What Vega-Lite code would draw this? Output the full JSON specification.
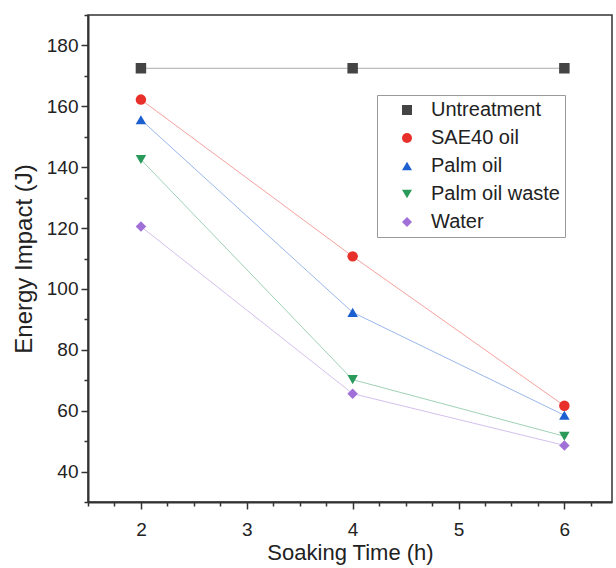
{
  "$schema": "https://vega.github.io/schema/vega-lite/v6.json",
  "autosize": {"type": "none"},
  "padding": {"left": 88, "top": 15, "right": 4, "bottom": 66},
  "width": 524,
  "height": 487,
  "background": "white",
  "config": {
    "font": "Liberation Sans",
    "view": {"stroke": "#333", "strokeWidth": 1.5},
    "axis": {"grid": false, "domainColor": "#333", "domainWidth": 2, "tickColor": "#333", "tickWidth": 1.5, "labelColor": "#222", "titleColor": "#222", "labelFont": "Liberation Sans", "titleFont": "Liberation Sans", "titleFontWeight": "normal"}
  },
  "data": {"values": [
    {"time": 2, "energy": 172.5, "series": "Untreatment"},
    {"time": 4, "energy": 172.5, "series": "Untreatment"},
    {"time": 6, "energy": 172.5, "series": "Untreatment"},
    {"time": 2, "energy": 162.2, "series": "SAE40 oil"},
    {"time": 4, "energy": 110.7, "series": "SAE40 oil"},
    {"time": 6, "energy": 61.6, "series": "SAE40 oil"},
    {"time": 2, "energy": 155.6, "series": "Palm oil"},
    {"time": 4, "energy": 92.3, "series": "Palm oil"},
    {"time": 6, "energy": 58.5, "series": "Palm oil"},
    {"time": 2, "energy": 142.5, "series": "Palm oil waste"},
    {"time": 4, "energy": 70.2, "series": "Palm oil waste"},
    {"time": 6, "energy": 51.6, "series": "Palm oil waste"},
    {"time": 2, "energy": 120.5, "series": "Water"},
    {"time": 4, "energy": 65.6, "series": "Water"},
    {"time": 6, "energy": 48.6, "series": "Water"}
  ]},
  "encoding": {
    "x": {"field": "time", "type": "quantitative", "scale": {"domain": [1.5, 6.45], "nice": false, "zero": false}},
    "y": {"field": "energy", "type": "quantitative", "scale": {"domain": [30, 190], "nice": false, "zero": false}}
  },
  "layer": [
    {
      "mark": {"type": "rule", "color": "#333", "strokeWidth": 0},
      "encoding": {
        "x": {"field": "time", "type": "quantitative", "axis": {"orient": "bottom", "values": [1.5, 1.75, 2.25, 2.5, 2.75, 3.25, 3.5, 3.75, 4.25, 4.5, 4.75, 5.25, 5.5, 5.75, 6.25], "labels": false, "tickSize": 4, "domain": false, "title": null}},
        "y": {"field": "energy", "type": "quantitative", "axis": {"orient": "left", "values": [30, 50, 70, 90, 110, 130, 150, 170, 190], "labels": false, "tickSize": 4, "domain": false, "title": null}}
      }
    },
    {
      "mark": {"type": "line", "strokeWidth": 1, "strokeOpacity": 0.45},
      "encoding": {
        "x": {"field": "time", "type": "quantitative", "axis": {"orient": "bottom", "values": [2, 3, 4, 5, 6], "tickSize": 7, "labelFontSize": 19, "labelPadding": 11, "title": "Soaking Time (h)", "titleFontSize": 22, "titlePadding": 3}},
        "y": {"field": "energy", "type": "quantitative", "axis": {"orient": "left", "values": [40, 60, 80, 100, 120, 140, 160, 180], "tickSize": 7, "labelFontSize": 19, "labelPadding": 3, "title": "Energy Impact (J)", "titleFontSize": 24, "titlePadding": 10}},
        "color": {"field": "series", "type": "nominal", "title": null, "scale": {"domain": ["Untreatment", "SAE40 oil", "Palm oil", "Palm oil waste", "Water"], "range": ["#444444", "#e8302a", "#1c5fd0", "#2a9a5a", "#a070d8"]}}
      }
    },
    {
      "mark": {"type": "point", "filled": true, "opacity": 1, "size": 110},
      "encoding": {
        "x": {"field": "time", "type": "quantitative", "axis": null},
        "y": {"field": "energy", "type": "quantitative", "axis": null},
        "color": {"field": "series", "type": "nominal", "title": null, "scale": {"domain": ["Untreatment", "SAE40 oil", "Palm oil", "Palm oil waste", "Water"], "range": ["#444444", "#e8302a", "#1c5fd0", "#2a9a5a", "#a070d8"]},
          "legend": {"orient": "none", "legendX": 289, "legendY": 80, "strokeColor": "#999", "fillColor": "white", "padding": 5, "labelFontSize": 20, "labelColor": "#222", "rowPadding": 8, "symbolSize": 100, "symbolOffset": 15, "labelOffset": 14, "symbolStrokeWidth": 0, "symbolOpacity": 1}},
        "shape": {"field": "series", "type": "nominal", "title": null, "scale": {"domain": ["Untreatment", "SAE40 oil", "Palm oil", "Palm oil waste", "Water"], "range": ["square", "circle", "triangle-up", "triangle-down", "diamond"]}}
      }
    }
  ],
  "resolve": {"axis": {"x": "independent", "y": "independent"}}
}
